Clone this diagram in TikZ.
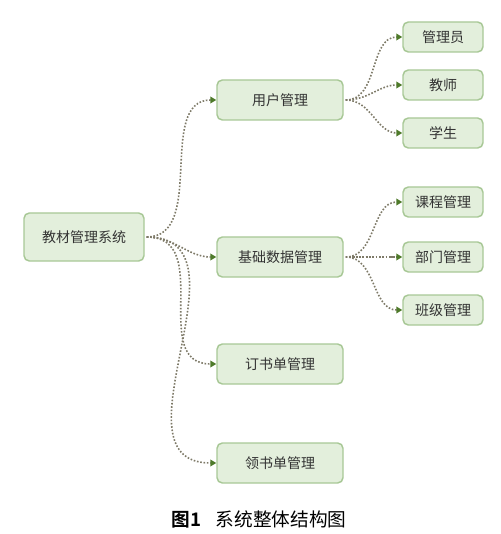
\documentclass[tikz,border=0pt]{standalone}
\usepackage{fontspec}
\newfontfamily\cjk{Noto Sans CJK SC}
\newfontfamily\cjkb{Noto Sans CJK SC Bold}
\usetikzlibrary{arrows.meta}
\definecolor{boxfill}{HTML}{E3EFDC}
\definecolor{boxdraw}{HTML}{A8C896}
\definecolor{linecol}{HTML}{7E7A68}
\definecolor{tipcol}{HTML}{4E7A2A}
\definecolor{txt}{HTML}{333333}
\tikzset{
  mbox/.style={draw=boxdraw, fill=boxfill, line width=1.1pt, rounded corners=4pt,
    minimum width=#1, text=txt, font=\cjk\fontsize{10.5}{12}\selectfont, inner sep=0pt},
  mbox/.default=94.5pt,
  bigbox/.style={mbox=94.5pt, minimum height=30pt},
  rootbox/.style={mbox=90pt, minimum height=36pt},
  leafbox/.style={mbox=60pt, minimum height=22.5pt},
  conn/.style={draw=linecol, line width=1.2pt, dash pattern=on 1.2pt off 1.3pt,
    -{Triangle[length=4.5pt,width=5pt,fill=tipcol,color=tipcol,sep=0pt]}},
}
\begin{document}
\begin{tikzpicture}[x=0.75pt,y=-0.75pt]
\useasboundingbox (0,0) rectangle (500,534);
\node[rootbox] (root) at (84,237) {教材管理系统};
\node[bigbox] (user) at (280,100) {用户管理};
\node[bigbox] (base) at (280,257) {基础数据管理};
\node[bigbox] (order) at (280,364) {订书单管理};
\node[bigbox] (recv) at (280,463) {领书单管理};
\node[leafbox] (adm) at (443,37) {管理员};
\node[leafbox] (tea) at (443,85) {教师};
\node[leafbox] (stu) at (443,133) {学生};
\node[leafbox] (crs) at (443,202) {课程管理};
\node[leafbox] (dep) at (443,257) {部门管理};
\node[leafbox] (cls) at (443,310) {班级管理};
\coordinate (rs) at ([xshift=1.5pt]root.east);
\coordinate (us) at ([xshift=1.5pt]user.east);
\coordinate (bs) at ([xshift=1.5pt]base.east);
\draw[conn] (rs) to[out=0,in=180,looseness=1] (user.west);
\draw[conn] (rs) to[out=0,in=180,looseness=1] (base.west);
\draw[conn] (rs) to[out=0,in=180,looseness=1.2] (order.west);
\draw[conn] (rs) to[out=0,in=180,looseness=1.2] (recv.west);
\foreach \c in {adm,tea,stu}{\draw[conn] (us) to[out=0,in=180] (\c.west);}
\foreach \c in {crs,dep,cls}{\draw[conn] (bs) to[out=0,in=180] (\c.west);}
\node[font=\fontsize{14}{16}\selectfont, text=black] (cap) at (259,519) {{\cjkb 图1}\hspace{0.8em}{\cjk 系统整体结构图}};
\end{tikzpicture}
\end{document}
